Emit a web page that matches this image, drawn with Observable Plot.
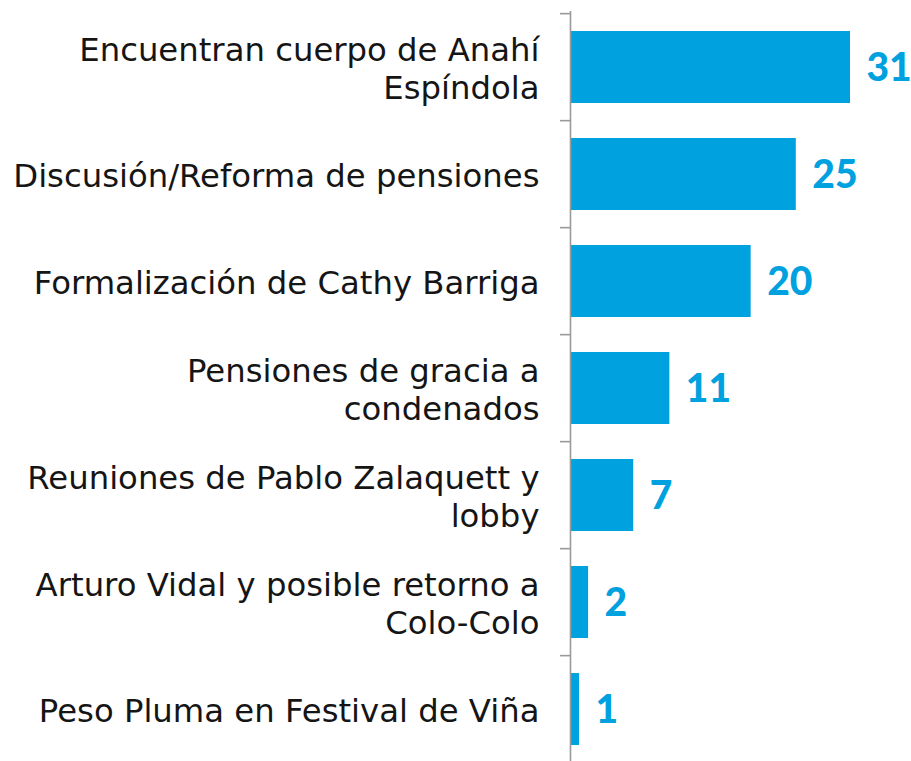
<!DOCTYPE html>
<html>
<head>
<meta charset="utf-8">
<script src="https://cdn.jsdelivr.net/npm/d3@7"></script>
<script src="https://cdn.jsdelivr.net/npm/@observablehq/plot@0.6"></script>
<style>
  html, body { margin: 0; padding: 0; background: #fff; overflow: hidden; }
  #chart svg { display: block; overflow: visible; }
</style>
</head>
<body>
<div id="chart"></div>
<script>
const categories = [
  "Encuentran cuerpo de Anahí\nEspíndola",
  "Discusión/Reforma de pensiones",
  "Formalización de Cathy Barriga",
  "Pensiones de gracia a\ncondenados",
  "Reuniones de Pablo Zalaquett y\nlobby",
  "Arturo Vidal y posible retorno a\nColo-Colo",
  "Peso Pluma en Festival de Viña"
];
const values = [31, 25, 20, 11, 7, 2, 1];

const data = categories.map((c, i) => ({cat: c, value: values[i]}));

const W = 911, H = 761;
const yTop = 11, yBottom = 765;
const step = (yBottom - yTop) / categories.length;
const blue = "#00a1df";
const grey = "#9a9a9a";
const labelFont = "DejaVu Sans";

const chart = Plot.plot({
  width: W,
  height: H,
  marginTop: 0, marginBottom: 0, marginLeft: 0, marginRight: 0,
  x: {domain: [0, 31], range: [570, 850], axis: null},
  y: {domain: categories, range: [yTop, yBottom], paddingInner: 0.33, paddingOuter: 0.165, axis: null},
  marks: [
    Plot.barX(data, {x: "value", y: "cat", fill: blue, insetLeft: 1}),
    Plot.ruleX([0], {stroke: grey, strokeWidth: 1.6, insetTop: yTop}),
    Plot.axisY({
      tickSize: 10, tickFormat: () => "", label: null, stroke: grey, strokeWidth: 1.6,
      strokeOpacity: 1, dy: -step / 2, anchor: "left", x: 0
    }),
    Plot.text(data, {
      x: 0, y: "cat", text: "cat", textAnchor: "end", dx: -31,
      fontSize: 32.3, fontFamily: labelFont, fill: "#151515", lineHeight: 1.19
    }),
    Plot.text(data, {
      x: "value", y: "cat", text: d => String(d.value), textAnchor: "start", dx: 16,
      fontSize: 39, fontWeight: 900, fontFamily: "Lato", fill: blue, dy: 1,
      letterSpacing: -1
    })
  ]
});
document.getElementById("chart").appendChild(chart);
</script>
</body>
</html>
